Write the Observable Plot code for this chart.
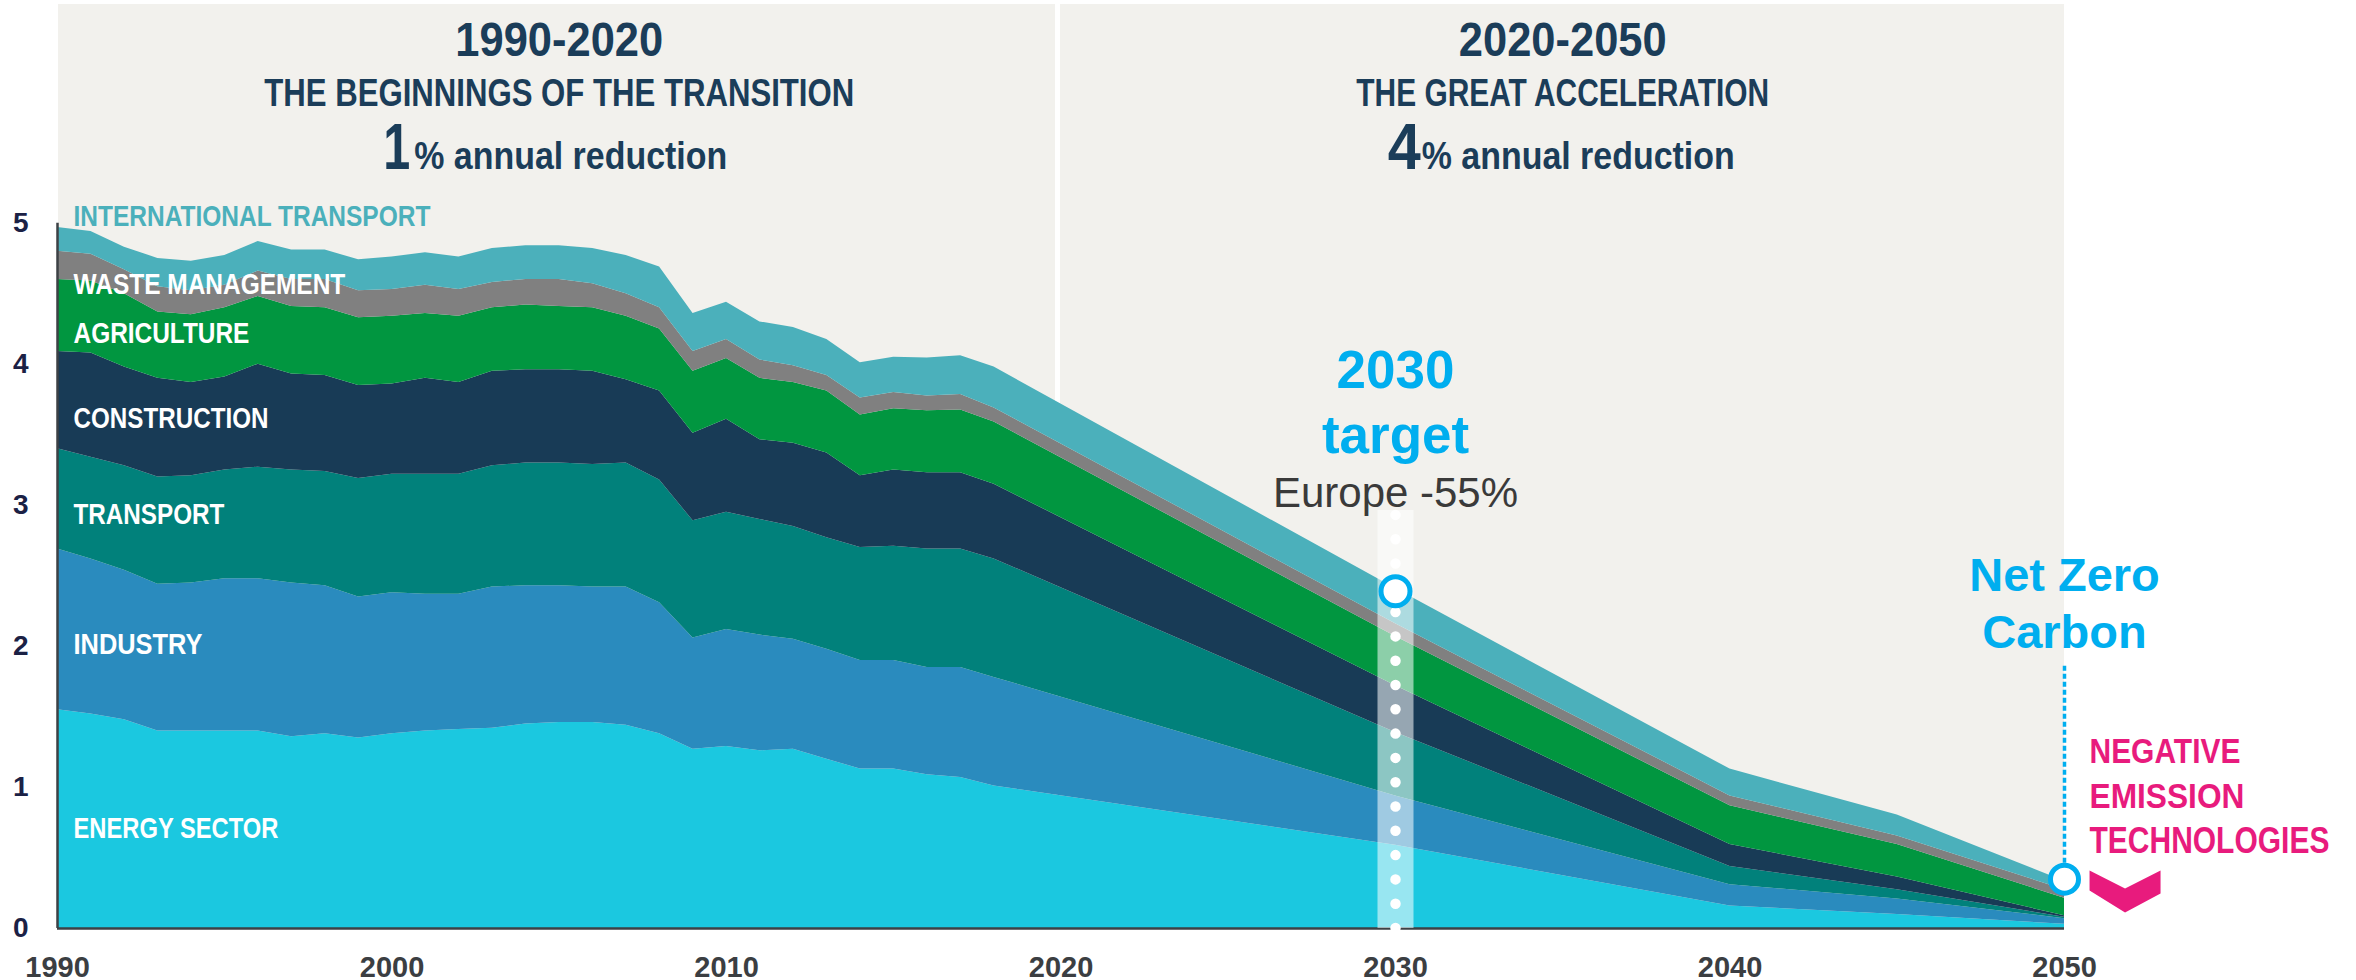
<!DOCTYPE html>
<html>
<head>
<meta charset="utf-8">
<script src="https://cdn.jsdelivr.net/npm/d3@7"></script>
<script src="https://cdn.jsdelivr.net/npm/@observablehq/plot@0.6"></script>
<style>
  html, body { margin: 0; padding: 0; background: #ffffff; }
  #chart svg { display: block; }
</style>
</head>
<body>
<div id="chart"></div>
<script>
// ---------------- DATA ----------------
const years = [1990,1991,1992,1993,1994,1995,1996,1997,1998,1999,2000,2001,2002,2003,2004,2005,2006,2007,2008,2009,2010,2011,2012,2013,2014,2015,2016,2017,2018,2030,2040,2045,2050];

const sectors = ["Energy sector","Industry","Transport","Construction","Agriculture","Waste management","International transport"];

const energySector = [1.55,1.52,1.48,1.40,1.40,1.40,1.40,1.36,1.38,1.35,1.38,1.40,1.41,1.42,1.45,1.46,1.46,1.44,1.38,1.27,1.29,1.26,1.27,1.20,1.13,1.13,1.09,1.07,1.01,0.59,0.16,0.10,0.03];
const industry     = [1.14,1.10,1.06,1.04,1.05,1.08,1.08,1.09,1.05,1.00,1.00,0.97,0.96,1.00,0.98,0.97,0.96,0.98,0.93,0.79,0.83,0.82,0.78,0.78,0.77,0.77,0.76,0.78,0.77,0.35,0.15,0.11,0.04];
const transport    = [0.71,0.72,0.74,0.76,0.76,0.77,0.79,0.80,0.81,0.84,0.84,0.85,0.85,0.86,0.87,0.87,0.87,0.88,0.87,0.83,0.83,0.82,0.80,0.79,0.80,0.81,0.84,0.84,0.84,0.45,0.13,0.065,0.01];
const construction = [0.69,0.74,0.70,0.70,0.66,0.66,0.73,0.68,0.68,0.66,0.64,0.68,0.65,0.67,0.66,0.66,0.66,0.59,0.63,0.62,0.66,0.565,0.59,0.60,0.51,0.54,0.54,0.54,0.53,0.33,0.155,0.09,0.01];
const agriculture  = [0.51,0.51,0.52,0.47,0.48,0.49,0.48,0.48,0.48,0.48,0.48,0.46,0.47,0.45,0.46,0.45,0.45,0.45,0.44,0.44,0.43,0.435,0.43,0.44,0.43,0.435,0.44,0.445,0.44,0.35,0.275,0.23,0.125];
const wasteManagement = [0.20,0.19,0.17,0.18,0.17,0.16,0.18,0.19,0.20,0.19,0.19,0.20,0.19,0.18,0.18,0.19,0.17,0.16,0.15,0.14,0.135,0.13,0.12,0.11,0.12,0.115,0.105,0.11,0.10,0.09,0.07,0.06,0.06];
const internationalTransport = [0.17,0.16,0.16,0.20,0.21,0.21,0.21,0.21,0.21,0.22,0.23,0.23,0.23,0.24,0.24,0.24,0.25,0.27,0.29,0.27,0.265,0.27,0.27,0.255,0.25,0.25,0.27,0.275,0.29,0.25,0.19,0.15,0.06];

const sectorColors = ["#1bc8e0","#2a8bbe","#01817b","#183b56","#019640","#808080","#4bb0bb"];

// labels drawn on the areas
const sectorLabels = ["ENERGY SECTOR","INDUSTRY","TRANSPORT","CONSTRUCTION","AGRICULTURE","WASTE MANAGEMENT","INTERNATIONAL TRANSPORT"];
const sectorLabelY = [0.645,1.949,2.864,3.551,4.147,4.501,4.983];

// periods
const periodStart = [1990, 2020];
const periodEnd   = [2020, 2050];
const periodMid   = [2005, 2035];
const periodNames = ["1990-2020","2020-2050"];
const periodTitles = ["THE BEGINNINGS OF THE TRANSITION","THE GREAT ACCELERATION"];
const periodRates = ["1","4"];
const periodRateText = "% annual reduction";

// milestones
const target2030 = [{year: 2030, value: 2.39}];
const netZero2050 = [{year: 2050, value: 0.35}];
const negativeLines = ["NEGATIVE","EMISSION","TECHNOLOGIES"];
const negativeY = [1.170, 0.851, 0.532];
const chevronAt = [{year: 2051.81, value: 0.262}];

const yTicks = [0,1,2,3,4,5];
const xTicks = [1990,2000,2010,2020,2030,2040,2050];

// ---------------- BUILD ----------------
const seriesValues = [energySector, industry, transport, construction, agriculture, wasteManagement, internationalTransport];
const rows = sectors.flatMap((s, i) => years.map((yr, j) => ({year: yr, sector: s, value: seriesValues[i][j]})));
const panels = periodStart.map((s, i) => ({x1: s, x2: periodEnd[i]}));

const COND = "'Liberation Sans Narrow', 'Arial Narrow', 'Liberation Sans', Arial, sans-serif";
const SANS = "'Liberation Sans', Arial, Helvetica, sans-serif";
const NAVY = "#1b3d59";
const CYAN = "#00aeef";
const MAGENTA = "#e81b7d";
const YMAX = 6.55;
const rateDx = [[-149, -145], [-142, -141]]; // [number end, text start] offsets from panel centre

const chevron = {
  draw(context, size) {
    const r = Math.sqrt(size / Math.PI);
    const pts = [[-1,-0.59],[0,-0.085],[1,-0.59],[1,0.056],[0,0.59],[-1,-0.028]];
    context.moveTo(pts[0][0] * r, pts[0][1] * r);
    for (const p of pts.slice(1)) context.lineTo(p[0] * r, p[1] * r);
    context.closePath();
  }
};

const rateMarks = periodRates.flatMap((num, i) => [
  Plot.text([num], {x: periodMid[i], y: 5.387, text: d => d, dx: rateDx[i][0], textAnchor: "end", lineAnchor: "bottom",
    fill: NAVY, fontFamily: COND, fontWeight: "bold", fontSize: 64}),
  Plot.text([periodRateText], {x: periodMid[i], y: 5.387, text: d => d, dx: rateDx[i][1], textAnchor: "start", lineAnchor: "bottom",
    fill: NAVY, fontFamily: COND, fontWeight: "bold", fontSize: 39})
]);

const chart = Plot.plot({
  width: 2356,
  height: 980,
  marginLeft: 57,
  marginRight: 292,
  marginTop: 4,
  marginBottom: 52,
  style: {fontFamily: SANS, background: "#ffffff", overflow: "visible"},
  x: {domain: [1990, 2050]},
  y: {domain: [0, YMAX]},
  color: {domain: sectors, range: sectorColors},
  marks: [
    // background panels
    Plot.rect([panels[0]], {x1: "x1", x2: "x2", y1: 0, y2: YMAX, fill: "#f2f1ed", insetLeft: 1, insetRight: 5.5}),
    Plot.rect([panels[1]], {x1: "x1", x2: "x2", y1: 0, y2: YMAX, fill: "#f2f1ed", insetLeft: -0.5}),
    // stacked areas
    Plot.areaY(rows, {x: "year", y: "value", fill: "sector", order: sectors}),
    // axes lines
    Plot.ruleY([0], {x1: 1990, x2: 2050, stroke: "#3d4145", strokeWidth: 2.5}),
    Plot.ruleX([1990], {y1: 0, y2: 5, stroke: "#3d4145", strokeWidth: 2.5}),
    Plot.axisY({ticks: yTicks, tickFormat: d => String(d), tickSize: 0, tickPadding: 29, fontSize: 28, fontWeight: "bold", fill: "#1b2145", label: null}),
    Plot.axisX({ticks: xTicks, tickFormat: d => String(d), tickSize: 0, tickPadding: 28, fontSize: 29, fontWeight: "bold", fill: "#3b3e42", label: null}),
    // sector labels
    Plot.text(sectorLabels, {x: 1990, y: (d, i) => sectorLabelY[i], text: d => d, dx: 16, textAnchor: "start", lineAnchor: "bottom",
      fill: (d, i) => i === 6 ? sectorColors[6] : "#ffffff", fontFamily: COND, fontWeight: "bold", fontSize: 30}),
    // period headers
    Plot.text(periodNames, {x: (d, i) => periodMid[i], y: 6.188, text: d => d, textAnchor: "middle", lineAnchor: "bottom",
      fill: NAVY, fontFamily: COND, fontWeight: "bold", fontSize: 49}),
    Plot.text(periodTitles, {x: (d, i) => periodMid[i], y: 5.834, text: d => d, textAnchor: "middle", lineAnchor: "bottom",
      fill: NAVY, fontFamily: COND, fontWeight: "bold", fontSize: 39}),
    ...rateMarks,
    // 2030 target column
    Plot.ruleX([2030], {y1: 0, y2: 2.963, stroke: "#ffffff", strokeWidth: 36, strokeOpacity: 0.55}),
    Plot.ruleX([2030], {y1: 0, y2: 2.93, stroke: "#ffffff", strokeWidth: 10.5, strokeLinecap: "round", strokeDasharray: "0 24.3"}),
    Plot.dot(target2030, {x: "year", y: "value", r: 14.5, fill: "#ffffff", stroke: CYAN, strokeWidth: 5}),
    Plot.text(["2030"], {x: 2030, y: 3.835, text: d => d, textAnchor: "middle", lineAnchor: "bottom", fill: CYAN, fontWeight: "bold", fontSize: 53}),
    Plot.text(["target"], {x: 2030, y: 3.374, text: d => d, textAnchor: "middle", lineAnchor: "bottom", fill: CYAN, fontWeight: "bold", fontSize: 53}),
    Plot.text(["Europe -55%"], {x: 2030, y: 2.991, text: d => d, textAnchor: "middle", lineAnchor: "bottom", fill: "#3a3a3a", fontSize: 42}),
    // net zero 2050
    Plot.ruleX([2050], {y1: netZero2050[0].value, y2: 1.864, stroke: CYAN, strokeWidth: 3.5, strokeDasharray: "5 3"}),
    Plot.dot(netZero2050, {x: "year", y: "value", r: 14, fill: "#ffffff", stroke: CYAN, strokeWidth: 5}),
    Plot.text(["Net Zero"], {x: 2050, y: 2.389, text: d => d, textAnchor: "middle", lineAnchor: "bottom", fill: CYAN, fontWeight: "bold", fontSize: 47}),
    Plot.text(["Carbon"], {x: 2050, y: 1.985, text: d => d, textAnchor: "middle", lineAnchor: "bottom", fill: CYAN, fontWeight: "bold", fontSize: 47}),
    // negative emission technologies
    Plot.text(negativeLines, {x: 2050, y: (d, i) => negativeY[i], text: d => d, dx: 25, textAnchor: "start", lineAnchor: "bottom",
      fill: MAGENTA, fontFamily: COND, fontWeight: "bold", fontSize: 36}),
    Plot.dot(chevronAt, {x: "year", y: "value", r: 35.5, symbol: chevron, fill: MAGENTA, stroke: "none"})
  ]
});

document.getElementById("chart").appendChild(chart);

// condensed lettering: squeeze each condensed label horizontally to its width in the reference layout
const condWidths = {
  "INTERNATIONAL TRANSPORT": 357, "WASTE MANAGEMENT": 272, "AGRICULTURE": 176, "CONSTRUCTION": 195,
  "TRANSPORT": 151, "INDUSTRY": 129, "ENERGY SECTOR": 205,
  "1990-2020": 208, "2020-2050": 208,
  "THE BEGINNINGS OF THE TRANSITION": 590, "THE GREAT ACCELERATION": 413,
  "% annual reduction": 313, "1": 27, "4": 33,
  "NEGATIVE": 151, "EMISSION": 155, "TECHNOLOGIES": 240
};
chart.querySelectorAll("text").forEach(t => {
  const g = t.closest("g");
  const fam = (g && g.getAttribute("font-family")) || "";
  if (!fam.includes("Narrow")) return;
  const w = condWidths[t.textContent];
  if (!w) return;
  const natural = t.getComputedTextLength();
  if (!natural) return;
  const f = w / natural;
  const tr = t.getAttribute("transform");
  if (tr) {
    t.setAttribute("transform", `${tr} scale(${f},1)`);
  } else {
    const x = parseFloat(t.getAttribute("x")) || 0;
    t.setAttribute("x", 0);
    t.setAttribute("transform", `translate(${x},0) scale(${f},1)`);
  }
});
</script>
</body>
</html>
